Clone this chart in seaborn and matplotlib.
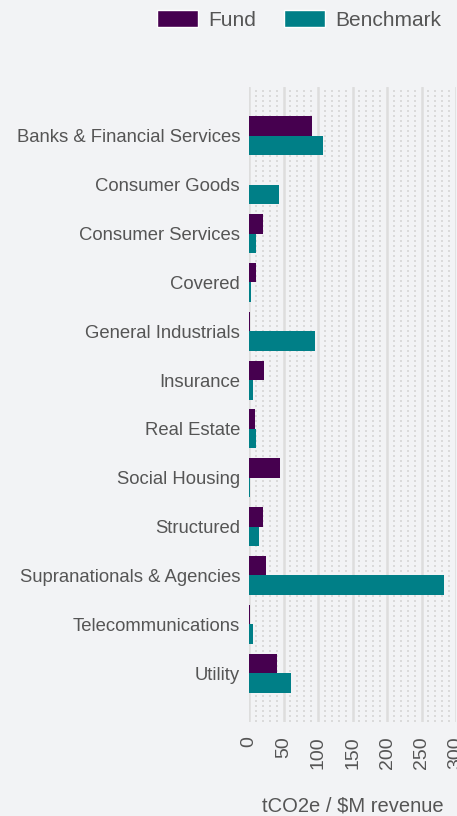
import seaborn as sns
import matplotlib.pyplot as plt
import pandas as pd
from matplotlib.patches import Patch

sectores = ['Banks & Financial Services', 'Consumer Goods', 'Consumer Services',
            'Covered', 'General Industrials', 'Insurance', 'Real Estate',
            'Social Housing', 'Structured', 'Supranationals & Agencies',
            'Telecommunications', 'Utility']
fund = [91, 0, 20, 10, 1, 22, 8, 45, 20, 25, 1, 40]
benchmark = [107, 43, 10, 3, 95, 5, 10, 2, 15, 282, 5, 61]
series = ['Fund', 'Benchmark']
colores = ['#46004f', '#007f87']
x_ticks = [0, 50, 100, 150, 200, 250, 300]

df = pd.DataFrame({
    'sector': sectores * 2,
    'valor': fund + benchmark,
    'serie': ['Fund'] * len(sectores) + ['Benchmark'] * len(sectores),
})

sns.set_style('white')
plt.rcParams['font.family'] = ['Liberation Sans', 'DejaVu Sans']
bg = '#f2f3f5'
texto = '#555555'

fig = plt.figure(figsize=(4.57, 8.16), dpi=100, facecolor=bg)
ax = fig.add_axes([0.545, 0.1152, 0.453, 0.7782])
ax.set_facecolor(bg)

# cuadricula punteada de fondo
for xv in range(0, 301, 10):
    if xv % 50:
        ax.axvline(xv, color='#dadada', lw=1.44, ls=(0, (1, 1.5)), zorder=0)
for xv in x_ticks:
    ax.axvline(xv, color='#dddddd', lw=1.8, zorder=0.5)

sns.barplot(data=df, x='valor', y='sector', hue='serie', orient='h',
            hue_order=series, palette=colores, saturation=1, width=0.8, ax=ax,
            edgecolor='none', zorder=2)

ax.set_xlim(0, 300)
ax.set_ylim(12, -1)
ax.set_xticks(x_ticks)
ax.tick_params(axis='x', labelrotation=90, labelsize=14, colors=texto, length=0, pad=10.5)
ax.tick_params(axis='y', labelsize=13.3, colors=texto, length=0, pad=6.5)
ax.set_ylabel('')
ax.set_xlabel('tCO2e / $M revenue', fontsize=14.5, color=texto, va='center')
ax.xaxis.set_label_coords(0.5, -0.132)
for s in ax.spines.values():
    s.set_visible(False)

ax.get_legend().remove()
handles = [Patch(facecolor=c, label=s) for s, c in zip(series, colores)]
leg = fig.legend(handles=handles, loc='center right', bbox_to_anchor=(0.965, 1 - 20 / 816),
                 ncol=2, frameon=False, fontsize=15, handlelength=1.97,
                 handleheight=0.91, columnspacing=1.34, handletextpad=0.48,
                 borderaxespad=0, borderpad=0)
for t in leg.get_texts():
    t.set_color(texto)

fig.savefig('out.png', dpi=100, facecolor=bg)
